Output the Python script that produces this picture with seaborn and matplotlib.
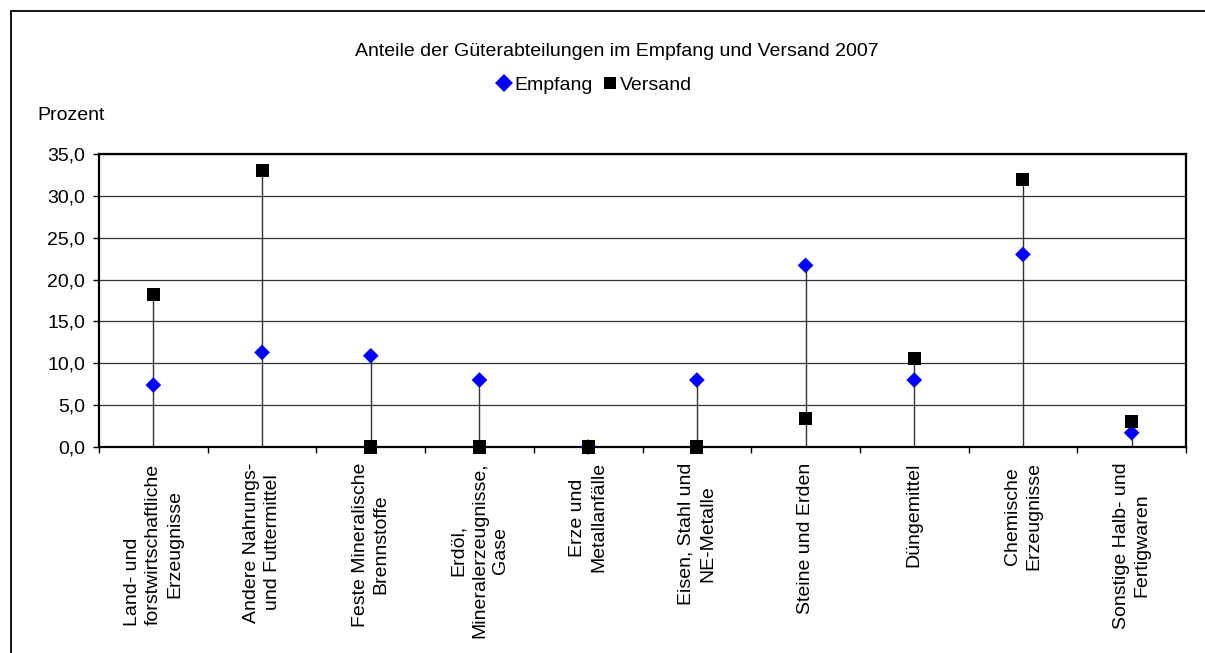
import pandas as pd
import seaborn as sns
import matplotlib
matplotlib.use("Agg")
from matplotlib import pyplot as plt
from matplotlib.lines import Line2D
from matplotlib.ticker import FuncFormatter, FixedLocator

# data
categories = [
    "Land- und              \nforstwirtschaftliche\nErzeugnisse",
    "Andere Nahrungs-\nund Futtermittel",
    "Feste Mineralische\nBrennstoffe",
    "Erdöl,\nMineralerzeugnisse,\nGase",
    "Erze und\nMetallanfälle",
    "Eisen, Stahl und\nNE-Metalle",
    "Steine und Erden",
    "Düngemittel",
    "Chemische\nErzeugnisse",
    "Sonstige Halb- und\nFertigwaren",
]
empfang = [7.4, 11.3, 10.9, 8.0, 0.0, 8.0, 21.7, 8.0, 23.0, 1.7]
versand = [18.2, 33.0, 0.0, 0.0, 0.0, 0.0, 3.4, 10.6, 32.0, 3.1]
series = ["Empfang", "Versand"]
y_ticks = [0, 5, 10, 15, 20, 25, 30, 35]


def makeplot():
    df = pd.DataFrame({
        "Kategorie": categories * 2,
        "Serie": [series[0]] * len(categories) + [series[1]] * len(categories),
        "Prozent": empfang + versand,
    })

    sns.set_style("white")
    plt.rcParams["font.family"] = ["Liberation Sans", "DejaVu Sans"]
    plt.rcParams["font.size"] = 14
    plt.rcParams["text.color"] = "black"
    plt.rcParams["xtick.color"] = "black"
    plt.rcParams["ytick.color"] = "black"

    fig = plt.figure(figsize=(12.05, 6.53), dpi=100)
    ax = fig.add_axes([99 / 1205, 1 - 447 / 653, (1186 - 99) / 1205, (447 - 154) / 653])

    # drop lines from the axis to the higher of both values
    tops = [max(a, b) for a, b in zip(empfang, versand)]
    ax.vlines(range(len(categories)), 0, tops, color="#333333", lw=1, zorder=2)

    sns.scatterplot(data=df, x="Kategorie", y="Prozent", hue="Serie", style="Serie",
                    size="Serie", ax=ax, legend=False,
                    palette={"Empfang": "#0000FF", "Versand": "#000000"},
                    markers={"Empfang": "D", "Versand": "s"},
                    sizes={"Empfang": 64, "Versand": 88},
                    edgecolor="none", zorder=3, clip_on=False)

    ax.set_xlim(-0.5, len(categories) - 0.5)
    ax.set_ylim(0, 35)
    ax.set_yticks(y_ticks)
    ax.yaxis.set_major_formatter(FuncFormatter(lambda v, p: f"{v:.1f}".replace(".", ",")))
    ax.yaxis.grid(True, color="#333333", lw=0.9)
    ax.set_axisbelow(True)
    ax.set_xlabel("")
    ax.set_ylabel("")

    ax.set_xticks(range(len(categories)))
    ax.set_xticklabels(categories, rotation=90, ha="center", va="top",
                       multialignment="center", linespacing=1.32)
    ax.xaxis.set_minor_locator(FixedLocator([i - 0.5 for i in range(len(categories) + 1)]))
    ax.tick_params(axis="x", which="major", length=0, pad=11, labelsize=14)
    ax.tick_params(axis="x", which="minor", length=4.5, width=1, color="black", bottom=True)
    ax.tick_params(axis="y", length=4.5, width=1, color="black", left=True, pad=5.5, labelsize=14)

    for sp in ax.spines.values():
        sp.set_color("black")
        sp.set_linewidth(1.6)

    fig.text(617 / 1205, 1 - 51 / 653, "Anteile der Güterabteilungen im Empfang und Versand 2007",
             ha="center", va="center", fontsize=14)
    fig.text(37 / 1205, 1 - 115 / 653, "Prozent", ha="left", va="center", fontsize=14)

    handles = [
        Line2D([], [], marker="D", ls="none", color="#0000FF", markersize=9, markeredgewidth=0),
        Line2D([], [], marker="s", ls="none", color="#000000", markersize=9.3, markeredgewidth=0),
    ]
    fig.legend(handles, series, loc="center", bbox_to_anchor=(595 / 1205, 1 - 85 / 653),
               ncol=2, frameon=False, fontsize=14, handlelength=0.6, handletextpad=0.2,
               columnspacing=0.6, borderpad=0)

    # outer chart frame (only left and top edges are visible)
    fig.add_artist(Line2D([11 / 1205, 11 / 1205], [0, 1 - 11 / 653], color="black", lw=1.3))
    fig.add_artist(Line2D([11 / 1205, 1], [1 - 11 / 653, 1 - 11 / 653], color="black", lw=1.3))

    plt.savefig("out.png", dpi=100)


def main():
    makeplot()


if __name__ == "__main__":
    main()
